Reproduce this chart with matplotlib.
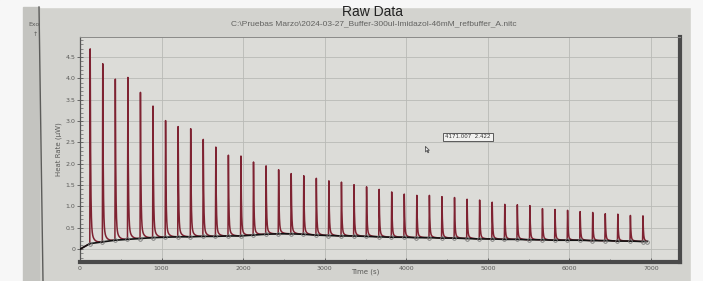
"""Raw Data (ITC heat-rate trace) -- photo of the instrument screen, redrawn."""
import numpy as np
import matplotlib
matplotlib.use("Agg")
import matplotlib.pyplot as plt
from matplotlib.lines import Line2D
from matplotlib.patches import Rectangle

TITLE = "Raw Data"
SUBTITLE = "C:\\Pruebas Marzo\\2024-03-27_Buffer-300ul-Imidazol-46mM_refbuffer_A.nitc"
TOOLTIP = "4171.007  2.422"

# injection times (s)
inj_t = [120, 274, 428, 582, 736, 890, 1044, 1198, 1352, 1506,
         1660, 1814, 1968, 2122, 2276, 2430, 2584, 2738, 2892, 3046,
         3200, 3354, 3508, 3662, 3816, 3970, 4124, 4278, 4432, 4586,
         4740, 4894, 5048, 5202, 5356, 5510, 5664, 5818, 5972, 6126,
         6280, 6434, 6588, 6742, 6896]
# peak maxima (uW)
peak_h = [4.69, 4.34, 3.98, 4.02, 3.67, 3.35, 3.01, 2.87, 2.82, 2.57,
          2.39, 2.20, 2.18, 2.04, 1.95, 1.86, 1.77, 1.72, 1.66, 1.60,
          1.57, 1.51, 1.46, 1.40, 1.34, 1.29, 1.26, 1.26, 1.23, 1.21,
          1.17, 1.15, 1.10, 1.05, 1.04, 1.02, 0.95, 0.93, 0.91, 0.88,
          0.86, 0.83, 0.82, 0.79, 0.78]
# baseline (uW) just before each injection
base_y = [0.13, 0.17, 0.21, 0.23, 0.25, 0.27, 0.28, 0.29, 0.29, 0.30,
          0.30, 0.31, 0.31, 0.33, 0.35, 0.36, 0.36, 0.35, 0.33, 0.32,
          0.31, 0.31, 0.30, 0.29, 0.28, 0.28, 0.27, 0.27, 0.26, 0.26,
          0.25, 0.24, 0.24, 0.23, 0.23, 0.22, 0.22, 0.21, 0.21, 0.21,
          0.20, 0.20, 0.19, 0.19, 0.18]
T_START, Y_START = 0, 0.0
T_END, Y_END = 6950, 0.18

X_TICKS = [0, 1000, 2000, 3000, 4000, 5000, 6000, 7000]
Y_TICKS = [0, 0.5, 1.0, 1.5, 2.0, 2.5, 3.0, 3.5, 4.0, 4.5]
Y_TICKLABELS = ["0", "0.5", "1.0", "1.5", "2.0", "2.5", "3.0", "3.5", "4.0", "4.5"]

TRACE_C = "#7e2231"
GRID_C = "#b9bab6"
TXT_C = "#5a5a58"


def build_trace():
    bt = [T_START] + inj_t + [T_END]
    by = [Y_START] + base_y + [Y_END]
    t = np.arange(T_START, T_END + 1, 1.0)
    y = np.interp(t, bt, by)
    for t0, h, b in zip(inj_t, peak_h, base_y):
        dt = t - t0
        # sharp rise, fast decay with a small slow tail
        shape = np.where(dt < 5, np.clip(dt, 0, None) / 5.0,
                         0.9 * np.exp(-(dt - 5) / 6.0) + 0.1 * np.exp(-(dt - 5) / 30.0))
        shape[dt < 0] = 0
        y = y + (h - b) * shape
    return t, y, bt, by


def main():
    t, y, bt, by = build_trace()

    fig = plt.figure(figsize=(7.03, 2.81), dpi=100, facecolor="#d3d3cf")
    # photo surroundings: white paper round the screen, window edge on the left
    fig.add_artist(Rectangle((0, 0), 23 / 703, 1, transform=fig.transFigure,
                             color="#f7f7f7", zorder=0))
    fig.add_artist(Rectangle((0, 1 - 7 / 281), 1, 7 / 281, transform=fig.transFigure,
                             color="#f7f7f7", zorder=0))
    fig.add_artist(Rectangle((691 / 703, 0), 12 / 703, 1, transform=fig.transFigure,
                             color="#f7f7f7", zorder=0))
    fig.add_artist(Rectangle((23 / 703, 0), 16 / 703, 1 - 7 / 281, transform=fig.transFigure,
                             color="#c4c4c0", zorder=0))
    fig.add_artist(Line2D([39 / 703, 43 / 703], [1 - 7 / 281, 0], transform=fig.transFigure,
                          color="#5c5c5a", lw=1.0))

    ax = fig.add_axes([80 / 703, 1 - 262 / 281, 600 / 703, 225 / 281])
    ax.set_facecolor("#dcdcd8")
    ax.plot(t, y, color=TRACE_C, lw=1.1, zorder=3)
    ax.plot(bt, by, color="#111111", lw=1.2, zorder=4)
    ax.plot(bt[1:], by[1:], "o", ms=2.6, mfc="none", mec="#777777", mew=0.6, zorder=5)

    ax.set_xlim(0, 7355)
    ax.set_ylim(-0.30, 4.97)
    ax.set_xticks(X_TICKS)
    ax.set_xticks([500, 1500, 2500, 3500, 4500, 5500, 6500], minor=True)
    ax.set_yticks(Y_TICKS)
    ax.set_yticklabels(Y_TICKLABELS)
    ax.set_yticks(np.arange(-0.2, 4.95, 0.1), minor=True)
    ax.grid(True, which="major", color=GRID_C, lw=0.6)
    ax.set_axisbelow(True)

    ax.tick_params(axis="x", which="major", direction="in", length=3, width=0.6,
                   labelsize=4.5, labelcolor=TXT_C, color="#555555", pad=3)
    ax.tick_params(axis="x", which="minor", direction="in", length=2, width=0.5, color="#555555")
    ax.tick_params(axis="y", which="major", direction="inout", length=5, width=0.6,
                   labelsize=4.5, labelcolor=TXT_C, color="#555555", pad=1)
    ax.tick_params(axis="y", which="minor", direction="in", length=2.5, width=0.5, color="#666666")

    for side, lw, c in [("left", 0.9, "#555555"), ("top", 0.7, "#8a8a88"),
                        ("right", 3.0, "#4a4a4a"), ("bottom", 3.0, "#4a4a4a")]:
        ax.spines[side].set_linewidth(lw)
        ax.spines[side].set_color(c)

    ax.set_xlabel("Time (s)", fontsize=5, color=TXT_C)
    ax.xaxis.set_label_coords(0.475, -0.03)
    ax.set_ylabel("Heat Rate (\u00b5W)", fontsize=5, color=TXT_C, labelpad=2)

    fig.text(372 / 703, 1 - 12 / 281, TITLE, ha="center", va="center",
             fontsize=10, color="#222222", family="Liberation Sans")
    fig.text(374 / 703, 1 - 24 / 281, SUBTITLE, ha="center", va="center",
             fontsize=6, color="#626260", family="Liberation Sans")
    fig.text(34 / 703, 1 - 24 / 281, "Exo", ha="center", va="center",
             fontsize=4.5, color=TXT_C)
    fig.text(35 / 703, 1 - 35 / 281, "\u2191", ha="center", va="center",
             fontsize=4.5, color=TXT_C)
    fig.text(468 / 703, 1 - 137 / 281, TOOLTIP, ha="center", va="center",
             fontsize=4, color="#333333",
             bbox=dict(boxstyle="square,pad=0.35", fc="#f2f2f0", ec="#444444", lw=0.6))
    # mouse pointer
    cursor = [(0, 0), (0, -10), (2.5, -7.5), (4.5, -11.5), (6, -10.8), (4, -7), (7, -7), (0, 0)]
    fig.add_artist(Line2D([425 / 703], [1 - 146 / 281], transform=fig.transFigure,
                          marker=cursor, ms=9, mfc="#eeeeee", mec="#555555", mew=0.6, ls="none"))

    fig.savefig("out.png", dpi=100, facecolor=fig.get_facecolor())


if __name__ == "__main__":
    main()
